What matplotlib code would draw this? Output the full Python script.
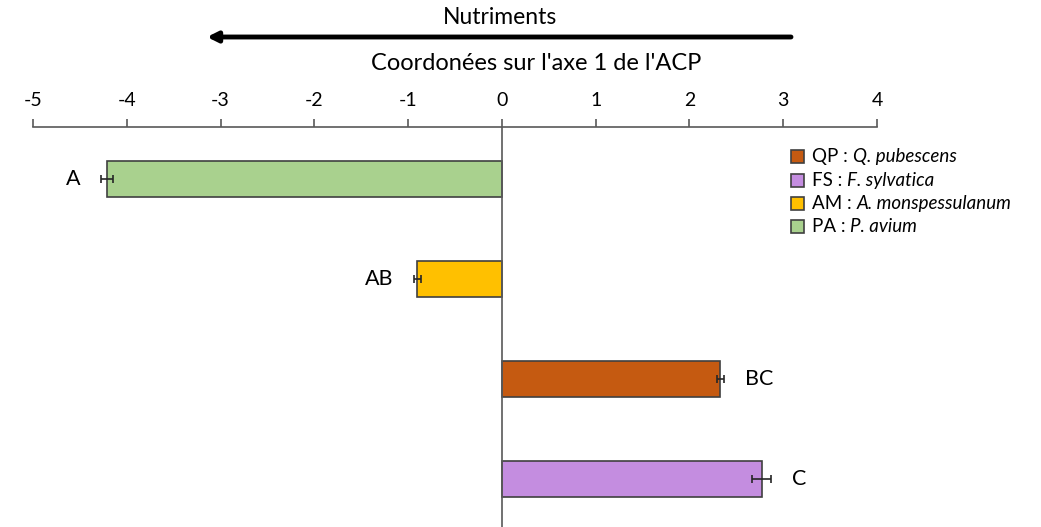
import matplotlib.pyplot as plt
import numpy as np

plt.rcParams['font.family'] = ['Lato', 'DejaVu Sans']
plt.rcParams['axes.unicode_minus'] = False

# data (top to bottom)
codes = ["PA", "AM", "QP", "FS"]
values = [-4.21, -0.90, 2.33, 2.77]
errors = [0.06, 0.04, 0.04, 0.10]
letters = ["A", "AB", "BC", "C"]
colors = ["#A9D18E", "#FFC000", "#C55A11", "#C48DE0"]

legend_codes = ["QP", "FS", "AM", "PA"]
legend_names = ["Q. pubescens", "F. sylvatica", "A. monspessulanum", "P. avium"]
legend_colors = ["#C55A11", "#C48DE0", "#FFC000", "#A9D18E"]

W, H = 1041, 527
fig = plt.figure(figsize=(W / 100, H / 100), dpi=100)
ax = fig.add_axes([33 / W, 0, (877 - 33) / W, 1 - 127 / H])

ypos = np.arange(len(codes)) + 0.52
ax.barh(ypos, values, height=0.36, color=colors, edgecolor="#404040", linewidth=1.2)
ax.errorbar(values, ypos, xerr=errors, fmt="none", ecolor="#262626",
            elinewidth=1.2, capsize=3, capthick=1.2)

for v, e, y, lab in zip(values, errors, ypos, letters):
    if v < 0:
        ax.text(v - e - 0.22, y, lab, ha="right", va="center", fontsize=15.5)
    else:
        ax.text(v + e + 0.22, y, lab, ha="left", va="center", fontsize=15.5)

ax.set_xlim(-5, 4)
ax.set_ylim(4, 0)
ax.axvline(0, color="#595959", linewidth=1.2)
for s in ["left", "right", "bottom"]:
    ax.spines[s].set_visible(False)
ax.spines["top"].set_color("#595959")
ax.spines["top"].set_linewidth(1.2)
ax.xaxis.tick_top()
ax.set_xticks(range(-5, 5))
ax.tick_params(axis="x", direction="out", length=6, width=1.2, color="#595959",
               labelsize=14, pad=7)
ax.tick_params(axis="y", left=False, labelleft=False)

# titles and arrow
fig.text(536 / W, 1 - 63 / H, "Coordonées sur l'axe 1 de l'ACP", ha="center",
         va="center", fontsize=17)
fig.text(500 / W, 1 - 18 / H, "Nutriments", ha="center", va="center", fontsize=16.5)
ax.annotate("", xy=(207 / W, 1 - 37 / H), xytext=(791 / W, 1 - 37 / H),
            xycoords="figure fraction", textcoords="figure fraction",
            arrowprops=dict(arrowstyle="-|>,head_length=0.6,head_width=0.3",
                            color="black", lw=3.5, shrinkA=0, shrinkB=0))

# legend
for i, (c, code, name) in enumerate(zip(legend_colors, legend_codes, legend_names)):
    yy = 1 - (157 + i * 23.3) / H
    fig.patches.append(plt.Rectangle((791 / W, yy - 6.5 / H), 13 / W, 13 / H,
                                     transform=fig.transFigure, facecolor=c,
                                     edgecolor="#404040", linewidth=1.2))
    t = fig.text(812 / W, yy, code + " : ", ha="left", va="center", fontsize=13.5)
    fig.canvas.draw()
    bb = t.get_window_extent()
    fig.text(bb.x1 / W, yy, name, ha="left", va="center", fontsize=13.5, style="italic")

fig.savefig("out.png", dpi=100)
